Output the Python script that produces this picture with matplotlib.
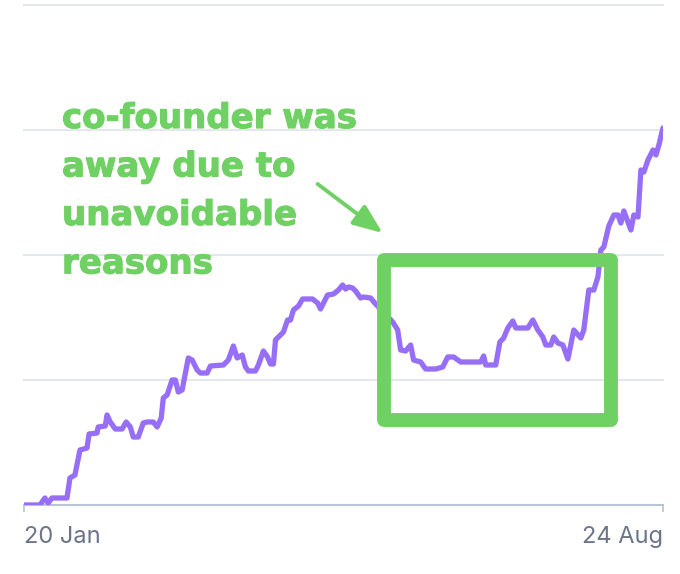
import matplotlib
matplotlib.use("Agg")
import matplotlib.pyplot as plt
import matplotlib.patheffects as pe
from matplotlib.patches import Rectangle
import pandas as pd

# days since start date, and the plotted value (arbitrary units, gridlines every 25)
start_date = "2024-01-20"
end_date = "2024-08-24"
days = [0, 5.4, 7.1, 8.2, 9.5, 14.6, 15.6, 17.3, 19.0, 21.4, 22.1, 24.8, 25.2, 27.6,
        28.2, 29.3, 31.0, 33.3, 34.7, 36.1, 37.1, 38.8, 40.5, 41.8, 43.9, 45.2, 46.6,
        47.3, 48.6, 50.3, 51.4, 52.4, 53.7, 54.8, 55.8, 57.1, 58.8, 59.9, 62.2, 63.3,
        67.7, 69.4, 71.1, 72.4, 74.1, 75.2, 76.2, 78.6, 79.6, 81.3, 82.7, 83.7, 84.7,
        85.4, 87.1, 88.1, 89.5, 90.5, 91.5, 93.2, 94.6, 98.0, 99.7, 100.7, 101.7, 103.1,
        105.1, 106.8, 108.2, 109.2, 110.2, 111.6, 112.6, 114.3, 115.3, 117.7, 119.4,
        122.1, 125.2, 126.9, 127.9, 129.6, 131.3, 132.3, 134.7, 136.4, 139.8, 142.2,
        143.9, 145.9, 148.3, 155.1, 156.1, 156.8, 160.2, 161.6, 162.9, 164.3, 166.0,
        167.0, 171.1, 172.8, 174.5, 176.2, 177.2, 178.9, 179.9, 181.3, 183.0, 184.7,
        186.7, 189.1, 190.1, 191.8, 193.5, 194.9, 195.9, 196.9, 198.6, 200.3, 201.7,
        202.7, 203.7, 205.1, 206.1, 207.1, 208.5, 209.5, 210.5, 211.9, 213.6, 214.6,
        215.6, 217.0]
values = [0, 0, 1.4, 0.4, 1.4, 1.4, 5.4, 6.0, 11.0, 11.4, 14.2, 14.4, 15.6, 15.8,
          18.0, 16.6, 15.2, 15.2, 16.6, 15.6, 13.6, 13.6, 16.4, 16.6, 16.6, 15.6, 17.4,
          21.4, 22.0, 25.0, 25.0, 22.6, 23.0, 26.4, 29.4, 29.0, 27.0, 26.4, 26.4, 27.8,
          28.0, 29.0, 31.8, 29.4, 30.0, 27.6, 26.8, 26.8, 28.0, 30.8, 29.6, 28.2, 28.2,
          33.0, 34.0, 34.6, 37.0, 37.0, 39.0, 39.8, 41.2, 41.2, 40.4, 39.2, 40.4, 42.0,
          42.2, 43.0, 44.0, 43.2, 43.6, 43.4, 42.8, 41.4, 41.6, 41.4, 40.2,
          38.6, 36.6, 35.0, 31.0, 30.8, 32.0, 29.0, 28.6, 27.2, 27.2, 27.6,
          29.6, 29.6, 28.6, 28.6, 29.8, 28.0, 28.0, 32.6, 33.4, 35.4, 36.8,
          35.4, 35.4, 37.0, 35.0, 33.6, 32.0, 32.0, 33.6, 32.4, 32.0, 29.2,
          35.0, 33.4, 35.0, 43.0, 43.0, 45.6, 51.0, 51.6, 55.8, 58.0, 58.0,
          56.4, 58.8, 56.6, 55.0, 58.0, 57.6, 67.0, 66.6, 69.0, 71.0, 70.0,
          72.0, 75.4]
grid_levels = [25, 50, 75, 100]
note_lines = ["co-founder was", "away due to", "unavoidable", "reasons"]

purple = "#976ef6"
green = "#6fd163"
grid_col = "#e4e8ee"
axis_col = "#bac4d4"
label_col = "#6b7488"

t0 = pd.Timestamp(start_date)
t1 = pd.Timestamp(end_date)
span = (t1 - t0).days

fig = plt.figure(figsize=(6.8, 5.74), dpi=100)
ax = fig.add_axes([24 / 680, 69 / 574, 639 / 680, 500 / 574])
ax.set_xlim(0, span)
ax.set_ylim(0, 100)

for g in grid_levels:
    ax.axhline(g, color=grid_col, lw=1.5, clip_on=False, zorder=0)

ax.plot(days, values, color=purple, lw=3.8, solid_joinstyle="round",
        solid_capstyle="round", zorder=3)

# highlight box and arrow
box = Rectangle((122.4, 17), 76.9, 32, fill=False, ec=green, lw=10,
                joinstyle="round", zorder=4)
ax.add_patch(box)
ax.annotate("", xy=(121.8, 54.4), xytext=(99.7, 64.2),
            arrowprops=dict(arrowstyle="-|>,head_length=0.9,head_width=0.36",
                            color=green, lw=2.8, mutation_scale=20,
                            shrinkA=0, shrinkB=0), zorder=5)

for i, line in enumerate(note_lines):
    ax.annotate(line, xy=(12.9, 75.4), xytext=(0, -34.9 * i),
                textcoords="offset points", va="baseline", ha="left",
                fontsize=24.5, fontweight="bold", family="DejaVu Sans",
                color=green, zorder=6,
                path_effects=[pe.withStroke(linewidth=0.8, foreground=green)])

for s in ["left", "right", "top"]:
    ax.spines[s].set_visible(False)
ax.spines["bottom"].set_color(axis_col)
ax.spines["bottom"].set_linewidth(1.5)
ax.set_yticks([])
ax.set_xticks([0, span])
ax.set_xticklabels([t0.strftime("%d %b"), t1.strftime("%d %b")],
                   fontsize=17, family="Inter", color=label_col)
ax.tick_params(axis="x", length=5, width=1.2, color=axis_col, pad=10)
tl = ax.get_xticklabels()
tl[0].set_ha("left")
tl[1].set_ha("right")

fig.savefig("out.png", dpi=100, facecolor="white")
